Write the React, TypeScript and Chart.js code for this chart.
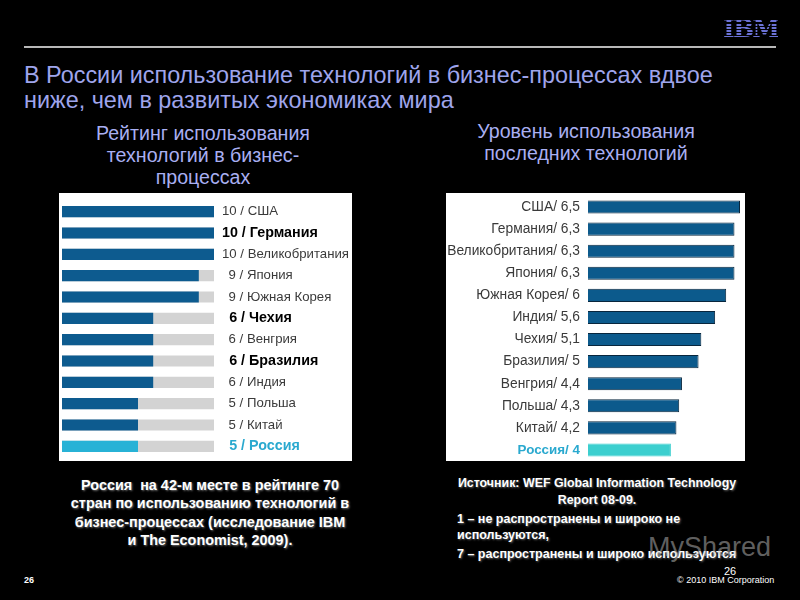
import React, { useEffect, useRef } from "react";
import { Chart, registerables } from "chart.js";

Chart.register(...registerables);

const leftCountries = ["США", "Германия", "Великобритания", "Япония", "Южная Корея", "Чехия", "Венгрия", "Бразилия", "Индия", "Польша", "Китай", "Россия"];
const leftRatings = [10, 10, 10, 9, 9, 6, 6, 6, 6, 5, 5, 5];
const leftTrack = [10, 10, 10, 10, 10, 10, 10, 10, 10, 10, 10, 10];
const leftBold = ["Германия", "Чехия", "Бразилия", "Россия"];

const rightCountries = ["США", "Германия", "Великобритания", "Япония", "Южная Корея", "Индия", "Чехия", "Бразилия", "Венгрия", "Польша", "Китай", "Россия"];
const rightLevels = [6.5, 6.3, 6.3, 6.3, 6, 5.6, 5.1, 5, 4.4, 4.3, 4.2, 4];

const highlight = "Россия";
const FONT = "'Liberation Sans', Arial, sans-serif";

function LeftChart() {
  const ref = useRef<HTMLCanvasElement>(null);
  useEffect(() => {
    const chart = new Chart(ref.current!, {
      type: "bar",
      data: {
        labels: leftCountries,
        datasets: [
          {
            data: leftRatings,
            backgroundColor: leftCountries.map((c) => (c === highlight ? "#27b2d6" : "#0d5b8f")),
            barPercentage: 0.52,
            categoryPercentage: 1,
            grouped: false,
          },
          {
            data: leftTrack,
            backgroundColor: "#d3d3d3",
            barPercentage: 0.52,
            categoryPercentage: 1,
            grouped: false,
          },
        ],
      },
      options: {
        indexAxis: "y",
        animation: false,
        responsive: false,
        layout: { padding: { left: 3, top: 8, bottom: 4, right: 0 } },
        plugins: { legend: { display: false }, tooltip: { enabled: false } },
        scales: {
          x: { display: false, min: 0, max: 10 },
          y: {
            position: "right",
            grid: { display: false, drawTicks: false },
            border: { display: false },
            afterFit: (scale: any) => {
              scale.width = 138;
              scale.paddingTop = 0;
              scale.paddingBottom = 0;
            },
            ticks: {
              padding: 8,
              callback: (_v: any, i: number) => `${leftRatings[i] < 10 ? "\u2002" : ""}${leftRatings[i]} / ${leftCountries[i]}`,
              color: (ctx: any) => {
                const c = leftCountries[ctx.index];
                if (c === highlight) return "#2aa9cf";
                return leftBold.includes(c) ? "#000000" : "#3a3a3a";
              },
              font: (ctx: any) => {
                const c = leftCountries[ctx.index];
                const b = leftBold.includes(c);
                return { family: FONT, size: b ? 14.3 : 13.2, weight: b ? "bold" : "normal" };
              },
            },
          },
        },
      },
    } as any);
    return () => chart.destroy();
  }, []);
  return <canvas ref={ref} width={293} height={268} style={{ position: "absolute", left: 59, top: 193, background: "#ffffff" }} />;
}

function RightChart() {
  const ref = useRef<HTMLCanvasElement>(null);
  useEffect(() => {
    const chart = new Chart(ref.current!, {
      type: "bar",
      data: {
        labels: rightCountries,
        datasets: [
          {
            data: rightLevels,
            backgroundColor: rightCountries.map((c) => (c === highlight ? "#3ccfcf" : "#0c5a8c")),
            borderColor: rightCountries.map((c) => (c === highlight ? "#3ccfcf" : "#08263d")),
            borderWidth: 1,
            borderSkipped: false,
            barPercentage: 0.59,
            categoryPercentage: 1,
          },
        ],
      },
      options: {
        indexAxis: "y",
        animation: false,
        responsive: false,
        layout: { padding: { left: 0, top: 3, bottom: 0, right: 5 } },
        plugins: { legend: { display: false }, tooltip: { enabled: false } },
        scales: {
          x: { display: false, min: 1, max: 6.5 },
          y: {
            position: "left",
            grid: { display: false, drawTicks: false },
            border: { display: false },
            afterFit: (scale: any) => {
              scale.width = 142;
              scale.paddingTop = 0;
              scale.paddingBottom = 0;
            },
            ticks: {
              padding: 8,
              callback: (_v: any, i: number) => `${rightCountries[i]}/ ${String(rightLevels[i]).replace(".", ",")}`,
              color: (ctx: any) => (rightCountries[ctx.index] === highlight ? "#2aa9cf" : "#3a3a3a"),
              font: (ctx: any) => {
                const b = rightCountries[ctx.index] === highlight;
                return { family: FONT, size: b ? 13.4 : 13.8, weight: b ? "bold" : "normal" };
              },
            },
          },
        },
      },
    } as any);
    return () => chart.destroy();
  }, []);
  return <canvas ref={ref} width={299} height={268} style={{ position: "absolute", left: 446, top: 193, background: "#ffffff" }} />;
}

const abs = (s: React.CSSProperties): React.CSSProperties => ({ position: "absolute", whiteSpace: "pre", fontFamily: FONT, ...s });

export default function App() {
  return (
    <div style={{ position: "fixed", left: 0, top: 0, width: 800, height: 600, background: "#000000", overflow: "hidden" }}>
      <div
        style={abs({
          left: 723,
          top: 14,
          fontFamily: "'DejaVu Serif', 'Liberation Serif', serif",
          fontWeight: "bold",
          fontSize: 25,
          letterSpacing: -1.8,
          lineHeight: "30px",
          background: "repeating-linear-gradient(to bottom, #6b72d6 0px, #6b72d6 2px, #000000 2px, #000000 3.2px)",
          WebkitBackgroundClip: "text",
          backgroundClip: "text",
          color: "transparent",
        })}
      >
        IBM
      </div>
      <div style={{ position: "absolute", left: 24, top: 46, width: 752, height: 2, background: "#b8b8b8" }} />
      <div style={abs({ left: 24, top: 63, fontSize: 23.4, lineHeight: "25px", color: "#9fa5ec" })}>
        {"В России использование технологий в бизнес-процессах вдвое\nниже, чем в развитых экономиках мира"}
      </div>
      <div style={abs({ left: 53, width: 300, top: 122, fontSize: 19.6, lineHeight: "22px", color: "#a9aff2", textAlign: "center" })}>
        {"Рейтинг использования\nтехнологий в бизнес-\nпроцессах"}
      </div>
      <div style={abs({ left: 436, width: 300, top: 120, fontSize: 19.6, lineHeight: "22px", color: "#a9aff2", textAlign: "center" })}>
        {"Уровень использования\nпоследних технологий"}
      </div>
      <LeftChart />
      <RightChart />
      <div
        style={abs({
          left: 50,
          width: 320,
          top: 476,
          fontSize: 14.4,
          fontWeight: "bold",
          lineHeight: "18.4px",
          color: "#ffffff",
          textAlign: "center",
          textShadow: "1px 1px 2px rgba(160,160,160,0.7)",
        })}
      >
        {"Россия  на 42-м месте в рейтинге 70\nстран по использованию технологий в\nбизнес-процессах (исследование IBM\nи The Economist, 2009)."}
      </div>
      <div style={abs({ left: 437, width: 320, top: 475, fontSize: 12.4, fontWeight: "bold", lineHeight: "17px", color: "#ffffff", textAlign: "center", textShadow: "1px 1px 2px rgba(160,160,160,0.6)" })}>
        {"Источник: WEF Global Information Technology\nReport 08-09."}
      </div>
      <div style={abs({ left: 457, top: 512, fontSize: 12.5, fontWeight: "bold", lineHeight: "15.5px", color: "#ffffff", textShadow: "1px 1px 2px rgba(160,160,160,0.6)" })}>
        {"1 – не распространены и широко не\nиспользуются,"}
      </div>
      <div style={abs({ left: 457, top: 546, fontSize: 12.5, fontWeight: "bold", lineHeight: "16px", color: "#ffffff", textShadow: "1px 1px 2px rgba(160,160,160,0.6)" })}>
        {"7 – распространены и широко используются"}
      </div>
      <div style={abs({ left: 648, top: 531, fontSize: 27, lineHeight: "32px", color: "rgba(190,190,190,0.5)" })}>MyShared</div>
      <div style={abs({ left: 24, top: 575, fontSize: 9, fontWeight: "bold", lineHeight: "11px", color: "#ffffff" })}>26</div>
      <div style={abs({ left: 724, top: 565, fontSize: 11, lineHeight: "13px", color: "#ffffff" })}>26</div>
      <div style={abs({ left: 677, top: 575, fontSize: 9, lineHeight: "11px", color: "#ffffff" })}>© 2010 IBM Corporation</div>
    </div>
  );
}
